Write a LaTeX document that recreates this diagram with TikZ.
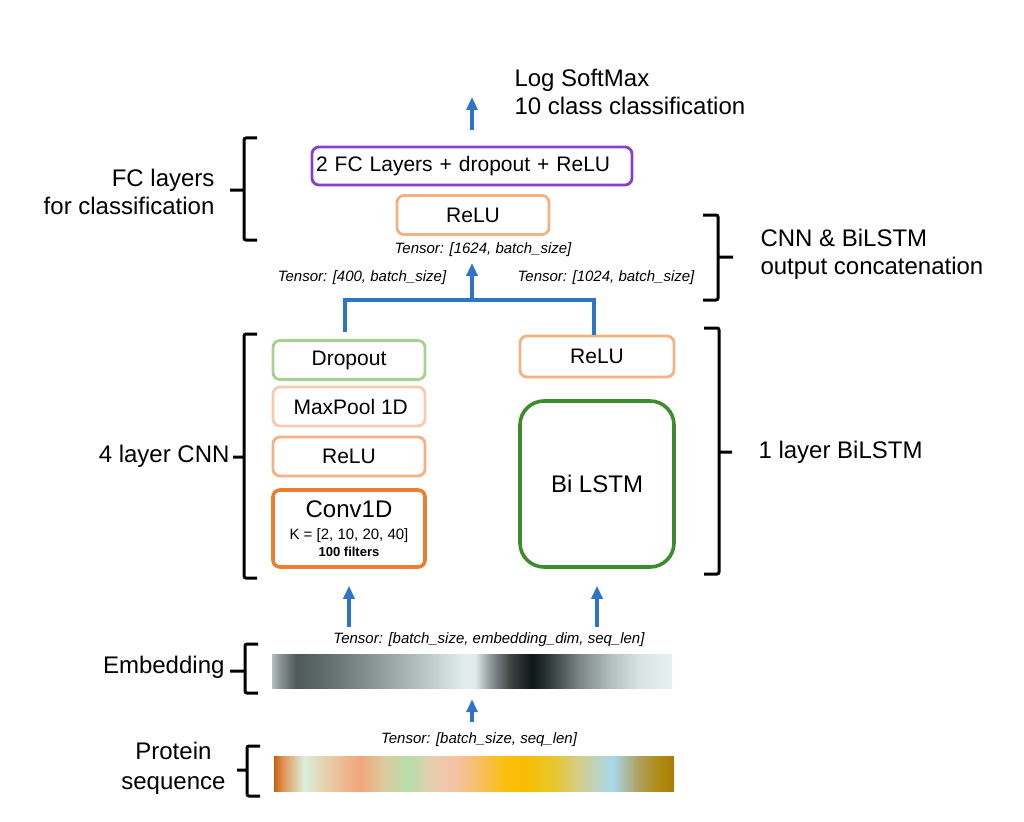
\documentclass[tikz,border=0pt]{standalone}
\usepackage{fontspec}
\setmainfont{Liberation Sans}
\usepackage{tikz}
\usetikzlibrary{arrows.meta,positioning}

\definecolor{fcpurple}{RGB}{138,63,204}
\definecolor{reluorange}{RGB}{244,177,131}
\definecolor{poolpeach}{RGB}{248,203,173}
\definecolor{dropgreen}{RGB}{169,209,142}
\definecolor{convorange}{RGB}{237,125,49}
\definecolor{lstmgreen}{RGB}{62,138,46}
\definecolor{flowblue}{RGB}{46,117,200}

% grey embedding strip
\pgfdeclarehorizontalshading{embedshade}{100bp}{
  rgb(0bp)=(.71,.75,.75); rgb(25bp)=(.71,.75,.75); rgb(26bp)=(.54,.58,.58);
  rgb(28bp)=(.31,.35,.34); rgb(31bp)=(.36,.41,.40); rgb(36bp)=(.49,.54,.53);
  rgb(43.5bp)=(.71,.76,.76); rgb(49.1bp)=(.89,.93,.93); rgb(50.4bp)=(.88,.92,.92);
  rgb(52.25bp)=(.56,.60,.60); rgb(54.75bp)=(.24,.27,.27); rgb(57.5bp)=(.05,.09,.08);
  rgb(59.5bp)=(.18,.22,.21); rgb(63.5bp)=(.49,.53,.53); rgb(67.5bp)=(.71,.76,.76);
  rgb(71bp)=(.85,.89,.89); rgb(75bp)=(.91,.95,.95); rgb(100bp)=(.91,.95,.95)}
% coloured sequence strip
\pgfdeclarehorizontalshading{proteinshade}{100bp}{
  rgb(0bp)=(.78,.38,.06); rgb(25bp)=(.78,.38,.06); rgb(26bp)=(.88,.56,.31);
  rgb(28.75bp)=(.85,.94,.86); rgb(31.4bp)=(.90,.82,.68); rgb(35.75bp)=(.95,.65,.48);
  rgb(38.9bp)=(.86,.80,.63); rgb(41.75bp)=(.71,.87,.66); rgb(44.75bp)=(.91,.81,.69);
  rgb(47.75bp)=(.96,.76,.64); rgb(50.75bp)=(.97,.75,.38); rgb(53.9bp)=(.99,.75,.06);
  rgb(56.4bp)=(.97,.74,0); rgb(59.75bp)=(.91,.78,.16); rgb(63.25bp)=(.83,.80,.56);
  rgb(67.25bp)=(.66,.85,.93); rgb(70.5bp)=(.69,.63,.38); rgb(73.25bp)=(.69,.54,.06);
  rgb(75bp)=(.66,.49,.03); rgb(100bp)=(.66,.49,.03)}

\begin{document}
\begin{tikzpicture}[x=1pt, y=-1pt,
    flow/.style={draw=flowblue, line width=3.2pt, -{Triangle[length=13pt,width=11pt]}},
    wire/.style={draw=flowblue, line width=3.2pt},
    layer/.style={draw, rounded corners=7pt, line width=2.8pt, minimum width=152pt,
      minimum height=39pt, inner sep=0pt, font=\fontsize{21}{24}\selectfont},
    bigtext/.style={font=\fontsize{24}{28}\selectfont},
    tensor/.style={font=\fontsize{15}{18}\selectfont\itshape},
    brk/.style={line width=3pt, rounded corners=2pt}]
	\useasboundingbox (0,0) rectangle (1024,821);

	% classifier head
	\node (out) [bigtext, align=left, anchor=west] at (511,92) {Log SoftMax\\10 class classification};
	\node (fc) [layer, draw=fcpurple, minimum width=320pt, minimum height=38pt, text width=312pt, align=left] at (472,166) {2 FC Layers + dropout + ReLU};
	\node (relutop) [layer, draw=reluorange] at (473,215) {ReLU};
	\coordinate (outtip) at (472,97);
	\node (t1624) [tensor] at (483,250) {Tensor: [1624, batch\_size]};
	\node (t400) [tensor] at (362,278) {Tensor: [400, batch\_size]};
	\node (t1024) [tensor] at (606,278) {Tensor: [1024, batch\_size]};

	% CNN branch
	\node (drop) [layer, draw=dropgreen] at (349,360) {Dropout};
	\node (pool) [layer, draw=poolpeach] at (349,406.5) {\,MaxPool 1D};
	\node (reluc) [layer, draw=reluorange] at (349,456.5) {ReLU};
	\node (conv) [layer, draw=convorange, line width=3.6pt, minimum height=77pt, align=center, font=\fontsize{13}{17}\selectfont] at (349,528.5)
		{{\fontsize{24}{26}\selectfont Conv1D}\\[5pt]{\fontsize{15}{17}\selectfont K = [2, 10, 20, 40]}\\{\bfseries 100 filters}};

	% BiLSTM branch
	\node (relur) [layer, draw=reluorange, minimum width=154pt, minimum height=41pt] at (597,356.5) {ReLU};
	\node (lstm) [layer, draw=lstmgreen, line width=3.6pt, rounded corners=24pt, minimum width=154pt, minimum height=166pt, font=\fontsize{24}{28}\selectfont] at (597,484) {Bi LSTM};

	% input strips
	\node (embed) [shade, shading=embedshade, minimum width=400pt, minimum height=34pt, inner sep=0pt] at (472,671) {};
	\node (prot) [shade, shading=proteinshade, minimum width=400pt, minimum height=35pt, inner sep=0pt] at (474,773.5) {};
	\node (tembed) [tensor] at (489,640) {Tensor: [batch\_size, embedding\_dim, seq\_len]};
	\node (tseq) [tensor] at (479,740) {Tensor: [batch\_size, seq\_len]};

	% side labels
	\node (lfc) [bigtext, align=right, anchor=east] at (218,192) {FC layers\\for classification};
	\node (lcat) [bigtext, align=left, anchor=west] at (757,254) {CNN \& BiLSTM\\output concatenation};
	\node (lcnn) [bigtext, anchor=east] at (233,456) {4 layer CNN};
	\node (llstm) [bigtext, anchor=west] at (755,452) {1 layer BiLSTM};
	\node (lembed) [bigtext, anchor=east] at (228,667) {Embedding};
	\node (lprot) [bigtext, align=center, anchor=east, font=\fontsize{24}{30}\selectfont] at (229,768) {Protein\\sequence};

	% brackets
	\draw[brk] (257,138) -- (244,138) -- (244,240) -- (257,240) (244,190) -- (230,190);
	\draw[brk] (257,334) -- (244,334) -- (244,578) -- (257,578) (244,457) -- (233,457);
	\draw[brk] (258,644) -- (245,644) -- (245,693) -- (258,693) (245,671) -- (230,671);
	\draw[brk] (260,746) -- (247,746) -- (247,796) -- (260,796) (247,770) -- (237,770);
	\draw[brk] (703,215) -- (718,215) -- (718,300) -- (703,300) (718,257) -- (733,257);
	\draw[brk] (704,328) -- (719,328) -- (719,574) -- (704,574) (719,452) -- (732,452);

	% data flow
	\coordinate (join) at (472,300);
	\coordinate (concattip) at (472,263);
	\draw[wire] ([xshift=-4pt, yshift=7pt]drop.north) |- (join) -| ([xshift=-3pt]relur.north);
	\draw[flow] (join) -- (concattip);
	\draw[flow, shorten <=16pt] (fc.north) -- (outtip);
	\draw[flow, shorten <=27pt, shorten >=17pt] (embed.north -| conv.south) -- (conv.south);
	\draw[flow, shorten <=27pt, shorten >=17pt] (embed.north -| lstm.south) -- (lstm.south);
	\draw[flow, shorten <=34pt, shorten >=11pt] (prot.north -| embed.south) -- (embed.south);
\end{tikzpicture}
\end{document}
